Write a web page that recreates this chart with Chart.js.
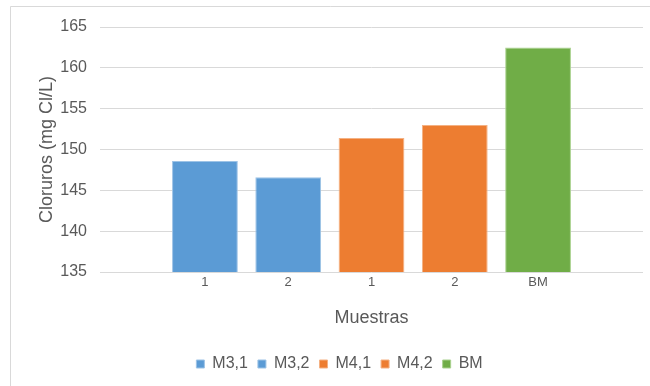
<!DOCTYPE html>
<html>
<head>
<meta charset="utf-8">
<script src="https://cdn.jsdelivr.net/npm/chart.js@4/dist/chart.umd.min.js"></script>
<style>
    body { margin: 0; background: #fff; }
    #wrap { width: 650px; height: 386px; }
</style>
</head>
<body>
<div id="wrap"><canvas id="cloruros_chart"></canvas></div>
<script>
var categorias = ["1", "2", "1", "2", "BM"];
var series = ["M3,1", "M3,2", "M4,1", "M4,2", "BM"];
var valores = [148.6, 146.6, 151.4, 153.0, 162.5];
var colores = ["#5B9BD5", "#5B9BD5", "#ED7D31", "#ED7D31", "#70AD47"];
var bordes = ["#9DC3E6", "#9DC3E6", "#F4B183", "#F4B183", "#A9D18E"];
var yTicks = [135, 140, 145, 150, 155, 160, 165];

Chart.defaults.font.family = "'Liberation Sans', Arial, sans-serif";
Chart.defaults.color = "#595959";

//one dataset per sample so each gets its own legend entry
var datasets = [];
for (var i in series) {
    datasets.push({
        label: series[i],
        data: [{ x: Number(i), y: valores[i] }],
        backgroundColor: colores[i],
        borderColor: bordes[i],
        borderWidth: 1,
        barPercentage: 0.79,
        categoryPercentage: 1,
    });
}

//light frame like the original chart box
var frame = {
    id: "frame",
    beforeDraw: function(chart) {
        var ctx = chart.ctx;
        ctx.save();
        ctx.fillStyle = "#fff";
        ctx.fillRect(0, 0, chart.width, chart.height);
        ctx.strokeStyle = "#D9D9D9";
        ctx.lineWidth = 1;
        ctx.beginPath();
        ctx.moveTo(10.5, chart.height);
        ctx.lineTo(10.5, 6.5);
        ctx.lineTo(chart.width, 6.5);
        ctx.stroke();
        ctx.restore();
    },
};

var canvas = document.getElementById("cloruros_chart");

var cloruros_chart = new Chart(canvas, {
    type: "bar",
    data: { datasets: datasets },
    plugins: [frame],
    options: {
        responsive: true,
        maintainAspectRatio: false,
        animation: false,
        grouped: false,
        layout: { padding: { left: 36, right: 7, top: 27, bottom: 4 } },
        plugins: {
            tooltip: { enabled: false },
            legend: {
                position: "bottom",
                labels: {
                    boxWidth: 8,
                    boxHeight: 8,
                    padding: 10,
                    font: { size: 16 },
                    color: "#595959",
                },
            },
        },
        scales: {
            x: {
                type: "linear",
                offset: false,
                min: -1.26,
                max: 5.26,
                grid: { display: false, drawTicks: false },
                border: { display: false },
                ticks: {
                    stepSize: 1,
                    autoSkip: false,
                    maxRotation: 0,
                    padding: 3,
                    font: { size: 13 },
                    callback: function(value) {
                        return Number.isInteger(value) && categorias[value] !== undefined ? categorias[value] : "";
                    },
                },
                title: {
                    display: true,
                    text: "Muestras",
                    font: { size: 18 },
                    padding: { top: 0, bottom: 17 },
                },
                afterFit: function(scale) { scale.height = 74; },
            },
            y: {
                min: 135,
                max: 165,
                grid: { color: "#D9D9D9", lineWidth: 1, drawTicks: false },
                border: { display: false },
                afterBuildTicks: function(scale) {
                    scale.ticks = yTicks.map(function(v) { return { value: v }; });
                },
                ticks: { padding: 13, font: { size: 16 } },
                title: {
                    display: true,
                    text: "Cloruros (mg Cl/L)",
                    font: { size: 18 },
                    padding: { top: 0, bottom: 0 },
                },
                afterFit: function(scale) { scale.width = 64; },
            },
        },
    },
});
</script>
</body>
</html>
